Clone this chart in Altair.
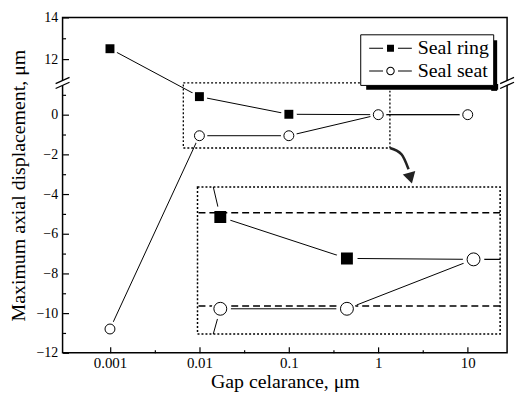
import altair as alt
import pandas as pd

# ---------------- data ----------------
gap = [0.001, 0.01, 0.1, 1, 10]
seal_ring = [12.5, 0.91, 0.02, 0.0, 0.0]
seal_seat = [-10.8, -1.06, -1.06, 0.0, 0.0]
series_names = ["Seal ring", "Seal seat"]

x_ticks = [0.001, 0.01, 0.1, 1, 10]
x_minor = [10 ** -2.5, 10 ** -1.5, 10 ** -0.5, 10 ** 0.5]
y_ticks = [-12, -10, -8, -6, -4, -2, 0, 12, 14]
y_minor = [-11, -9, -7, -5, -3, -1, 1, 13]

x_domain = [10 ** -3.53, 10 ** 1.44]
y_domain = [-12, 1.6, 10.86, 14]          # broken axis (piecewise)
y_range = [338, 66, 66, 0]
break_value = 1.6

zoom_x = [10 ** -2.18, 10 ** 0.13]        # dotted region in main plot
zoom_y = [-1.68, 1.6]
inset_x = [10 ** -2.18, 10 ** 0.21]       # inset axes
inset_y = [-1.6, 1.55]
inset_ref = [1, -1]

arrow_x = [10 ** 0.13, 1.82, 2.18]
arrow_y = [-1.68, -2.0, -2.75]
arrow_head_x = [2.29]
arrow_head_y = [-3.2]

FONT = "Liberation Serif"

rows = []
for g, v in zip(gap, seal_ring):
    rows.append({"gap": g, "value": v, "series": series_names[0]})
for g, v in zip(gap, seal_seat):
    rows.append({"gap": g, "value": v, "series": series_names[1]})
df = pd.DataFrame(rows)

ring_df = df[df.series == series_names[0]]
seat_df = df[df.series == series_names[1]]

xs = alt.Scale(type="log", domain=x_domain, nice=False)
ys = alt.Scale(type="linear", domain=y_domain, range=y_range, nice=False, zero=False)


def X(field="gap", axis=None):
    return alt.X(f"{field}:Q", scale=xs, axis=axis)


def Y(field="value", axis=None):
    return alt.Y(f"{field}:Q", scale=ys, axis=axis)


x_axis_main = alt.Axis(values=x_ticks, format="~g", tickSize=0, domain=False, grid=False,
                       labelFont=FONT, labelFontSize=15, labelColor="black", labelPadding=3,
                       labelFlush=False, labelOverlap=False,
                       title="Gap celarance, \u03bcm", titleFont=FONT, titleFontSize=20,
                       titleFontWeight="normal", titleColor="black", titlePadding=1,
                       orient="bottom")
y_axis_main = alt.Axis(values=y_ticks, tickSize=0, domain=False, grid=False,
                       labelFont=FONT, labelFontSize=14, labelColor="black", labelPadding=5,
                       labelOverlap=False,
                       title="Maximum axial displacement, \u03bcm", titleFont=FONT,
                       titleFontSize=20, titleFontWeight="normal", titleColor="black",
                       titlePadding=7, orient="left")
x_axis_major = alt.Axis(values=x_ticks, tickSize=6, offset=-6, labels=False, domain=False,
                        grid=False, title=None, tickColor="black", tickWidth=1.2, orient="bottom")
y_axis_major = alt.Axis(values=y_ticks, tickSize=6, offset=-6, labels=False, domain=False,
                        grid=False, title=None, tickColor="black", tickWidth=1.2, orient="left")
x_axis_minor = alt.Axis(values=x_minor, tickSize=3, offset=-3, labels=False, domain=False,
                        grid=False, title=None, tickColor="black", tickWidth=1.2, orient="bottom")
y_axis_minor = alt.Axis(values=y_minor, tickSize=3, offset=-3, labels=False, domain=False,
                        grid=False, title=None, tickColor="black", tickWidth=1.2, orient="left")

# dotted zoom region
zoom_df = pd.DataFrame({"x1": [zoom_x[0]], "x2": [zoom_x[1]], "y1": [zoom_y[0]], "y2": [zoom_y[1]]})
zoom_rect = alt.Chart(zoom_df).mark_rect(fill="transparent", stroke="black",
                                         strokeDash=[2, 2], strokeWidth=1.3).encode(
    x=X("x1"), x2="x2:Q", y=Y("y1"), y2="y2:Q")

lines = alt.Chart(df).mark_line(color="black", strokeWidth=1).encode(
    x=X(axis=x_axis_main), y=Y(axis=y_axis_main), detail="series:N")

halos = alt.Chart(df).mark_point(shape="circle", filled=True, color="white", size=256,
                                 opacity=1).encode(x=X(), y=Y())

ring_pts = alt.Chart(ring_df).mark_point(shape="square", filled=True, color="black",
                                         size=81, opacity=1).encode(
    x=X(axis=x_axis_major), y=Y(axis=y_axis_major))

seat_halo = alt.Chart(seat_df).mark_point(shape="circle", filled=True, color="white",
                                          size=200, opacity=1).encode(x=X(), y=Y())

seat_pts = alt.Chart(seat_df).mark_point(shape="circle", filled=True, fill="white",
                                         stroke="black", strokeWidth=1, size=100,
                                         opacity=1).encode(
    x=X(axis=x_axis_minor), y=Y(axis=y_axis_minor))

arrow_df = pd.DataFrame({"ax": arrow_x, "ay": arrow_y, "o": list(range(len(arrow_x)))})
arrow_line = alt.Chart(arrow_df).mark_line(color="#222", strokeWidth=2.5,
                                           interpolate="monotone").encode(
    x=X("ax"), y=Y("ay"), order="o:Q")
head_df = pd.DataFrame({"hx": arrow_head_x, "hy": arrow_head_y})
arrow_head = alt.Chart(head_df).mark_point(shape="triangle-down", filled=True, color="#222",
                                           size=170, angle=345, opacity=1).encode(
    x=X("hx"), y=Y("hy"))

break_df = pd.DataFrame({"bx": [x_domain[0], x_domain[1]], "by": [break_value, break_value]})
break_gap = alt.Chart(break_df).mark_point(
    shape="M-1,0.1L1,-0.8L1,-0.1L-1,0.8Z", filled=True, fill="white", strokeOpacity=0,
    size=196, opacity=1).encode(x=X("bx"), y=Y("by"))
break_lines = alt.Chart(break_df).mark_point(
    shape="M-1,0.1L1,-0.8M-1,0.8L1,-0.1", filled=False, stroke="black", strokeWidth=1.3,
    size=196, opacity=1).encode(x=X("bx"), y=Y("by"))

# legend shadow (bands to the right of and below the legend box)
LEG_X, LEG_Y, LEG_W, LEG_H, SH = 300, 17, 133, 51, 6
shadow_df = pd.DataFrame({"k": ["r"]})
shadow_r = alt.Chart(shadow_df).mark_rule(color="black", strokeWidth=SH, opacity=1).encode(
    x=alt.value(LEG_X + LEG_W + SH / 2 - 1), y=alt.value(LEG_Y + SH),
    y2=alt.value(LEG_Y + LEG_H + SH))
shadow_b = alt.Chart(shadow_df).mark_rule(color="black", strokeWidth=SH, opacity=1).encode(
    y=alt.value(LEG_Y + LEG_H + SH / 2 - 1), x=alt.value(LEG_X + SH),
    x2=alt.value(LEG_X + LEG_W + SH))

# legend symbols: line - marker - line (units of 5 px)
ring_path = ("M-1,-0.1H1.8V0.1H-1Z M4.8,-0.1H7.6V0.1H4.8Z "
             "M2.6,-0.7H4.0V0.7H2.6Z")
seat_path = ("M-1,-0.1H1.8V0.1H-1Z M4.8,-0.1H7.6V0.1H4.8Z "
             "M4.15,0A0.85,0.85 0 1,1 2.45,0A0.85,0.85 0 1,1 4.15,0Z "
             "M3.95,0A0.65,0.65 0 1,0 2.65,0A0.65,0.65 0 1,0 3.95,0Z")

legend_layer = alt.Chart(df).mark_point(opacity=0, filled=True, color="black").encode(
    x=X(), y=Y(),
    shape=alt.Shape("series:N",
                    scale=alt.Scale(domain=series_names, range=[ring_path, seat_path]),
                    legend=alt.Legend(title=None, orient="none", legendX=LEG_X, legendY=LEG_Y,
                                      symbolOpacity=1, symbolFillColor="black",
                                      symbolStrokeWidth=0, symbolSize=100,
                                      labelFont=FONT, labelFontSize=20, labelColor="black",
                                      labelOffset=34, labelLimit=300, strokeColor="black",
                                      fillColor="white", padding=4, rowPadding=3,
                                      cornerRadius=0)))

main = alt.layer(zoom_rect, lines, halos, ring_pts, seat_halo, seat_pts, arrow_line,
                 arrow_head, break_gap, break_lines, shadow_r, shadow_b,
                 legend_layer).resolve_axis(
    x="independent", y="independent").properties(
    width=448, height=338,
    view=alt.ViewBackground(stroke="black", strokeWidth=1.5))

# ---------------- inset ----------------
ixs = alt.Scale(type="log", domain=inset_x, nice=False)
iys = alt.Scale(type="linear", domain=inset_y, nice=False, zero=False)


def IX():
    return alt.X("gap:Q", scale=ixs, axis=None)


def IY():
    return alt.Y("value:Q", scale=iys, axis=None)


i_lines = alt.Chart(df).mark_line(color="black", strokeWidth=1, clip=True).encode(
    x=IX(), y=IY(), detail="series:N")
i_halos = alt.Chart(df).mark_point(shape="circle", filled=True, color="white", size=460,
                                   opacity=1, clip=True).encode(x=IX(), y=IY())
ref_df = pd.DataFrame({"ref": inset_ref})
i_ref = alt.Chart(ref_df).mark_rule(color="black", strokeDash=[7, 4], strokeWidth=1.6).encode(
    y=alt.Y("ref:Q", scale=iys, axis=None))
i_ring = alt.Chart(ring_df).mark_point(shape="square", filled=True, color="black", size=144,
                                       opacity=1, clip=True).encode(x=IX(), y=IY())
i_seat_halo = alt.Chart(seat_df).mark_point(shape="circle", filled=True, color="white",
                                            size=330, opacity=1, clip=True).encode(x=IX(), y=IY())
i_seat = alt.Chart(seat_df).mark_point(shape="circle", filled=True, fill="white", stroke="black",
                                       strokeWidth=1, size=169, opacity=1, clip=True).encode(
    x=IX(), y=IY())

inset = alt.layer(i_lines, i_halos, i_ref, i_ring, i_seat_halo, i_seat).properties(
    width=305, height=148,
    view=alt.ViewBackground(stroke="black", strokeDash=[2, 2], strokeWidth=1.5))

one = pd.DataFrame({"s": [0]})
spacer = alt.Chart(one).mark_point(opacity=0).encode(
    x=alt.value(0), y=alt.value(0)).properties(
    width=136, height=148, view=alt.ViewBackground(stroke="transparent"))

row2 = alt.hconcat(spacer, inset, spacing=0, bounds="flush").resolve_scale(
    x="independent", y="independent")

chart = alt.concat(main, row2, columns=1, spacing=-167, bounds="flush",
                   align="none").resolve_scale(
    x="independent", y="independent").configure_view(stroke="transparent").properties(
    padding={"left": 0, "top": 0, "right": 0, "bottom": 0})

chart.save("out.html", embed_options={"renderer": "svg", "actions": False})
